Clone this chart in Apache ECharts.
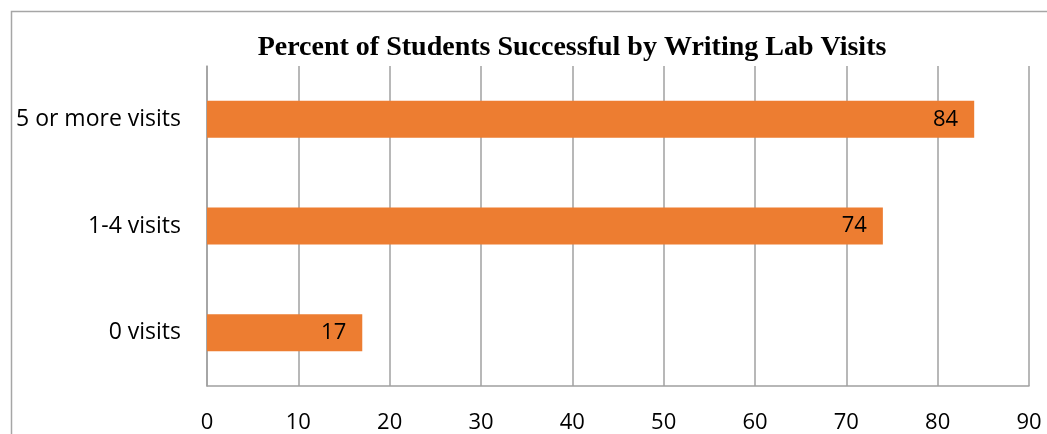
<!DOCTYPE html>
<html>
<head>
<meta charset="utf-8">
<script src="https://cdn.jsdelivr.net/npm/echarts@6/dist/echarts.min.js"></script>
<style>html,body{margin:0;padding:0;background:#fff;}#c{width:1047px;height:434px;}</style>
</head>
<body>
<div id="c"></div>
<script>
var categories = ['0 visits', '1-4 visits', '5 or more visits'];
var values = [17, 74, 84];
var titleText = 'Percent of Students Successful by Writing Lab Visits';

var chart = echarts.init(document.getElementById('c'));
chart.setOption({
  animation: false,
  title: {
    text: titleText,
    left: 567,
    textAlign: 'center',
    top: 29,
    textStyle: { fontFamily: 'Liberation Serif', fontWeight: 'bold', fontSize: 28, color: '#000' }
  },
  graphic: [{
    type: 'polyline',
    shape: { points: [[11.5, 434], [11.5, 11.5], [1047, 11.5]] },
    style: { stroke: '#a6a6a6', lineWidth: 1.5, fill: null }
  }],
  grid: { left: 207, right: 18, top: 66, bottom: 47 },
  xAxis: {
    type: 'value', min: 0, max: 90, interval: 10,
    axisLine: { show: true, lineStyle: { color: '#a0a0a0', width: 1.5 } },
    axisTick: { show: false },
    splitLine: { show: true, lineStyle: { color: '#a0a0a0', width: 1.5 } },
    axisLabel: { margin: 26, fontFamily: 'Open Sans', fontSize: 22, color: '#000' }
  },
  yAxis: {
    type: 'category', data: categories,
    axisLine: { show: true, lineStyle: { color: '#a0a0a0', width: 1.5 } },
    axisTick: { show: false },
    axisLabel: { margin: 26, fontFamily: 'Open Sans', fontSize: 23, color: '#000' }
  },
  series: [{
    type: 'bar', data: values, barWidth: 37,
    itemStyle: { color: '#ED7D31' },
    label: { show: true, position: 'insideRight', distance: 16, fontFamily: 'Open Sans', fontSize: 22, color: '#000' }
  }]
});
</script>
</body>
</html>
